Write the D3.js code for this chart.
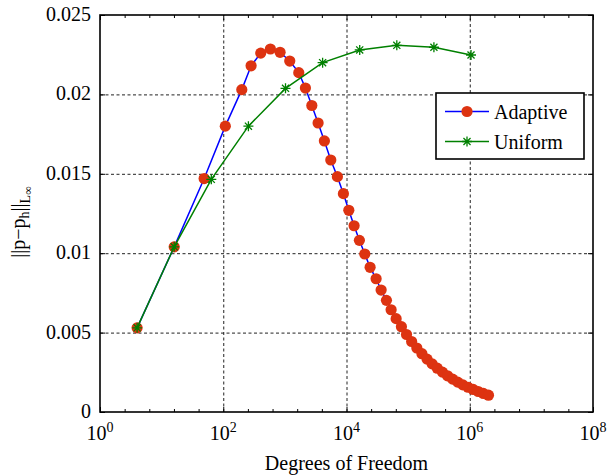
<!DOCTYPE html>
<html><head><meta charset="utf-8"><script src="https://cdn.jsdelivr.net/npm/d3@7"></script></head>
<body style="margin:0">
<svg id="c" width="609" height="475"></svg>
<script>
// ---- data ----
const adaptiveDOF = [4,16,49,108,200,283,406,582,836,1200,1680,2153,2735,3459,4376,5560,7115,8905,10900,13280,16190,19810,24150,30240,36470,44460,52980,63880,77850,94200,114000,138400,167500,202800,245400,296700,360300,436300,527600,638400,772700,937600,1135000,1374000,1663000,2013000];
const adaptiveErr = [0.0053,0.0104,0.0147,0.0180,0.0203,0.0218,0.0226,0.02286,0.02265,0.0221,0.02137,0.0204,0.0193,0.0182,0.01707,0.01587,0.01482,0.01375,0.0127,0.01173,0.01081,0.00995,0.00911,0.00839,0.00768,0.00703,0.00644,0.00588,0.00537,0.00488,0.00444,0.00403,0.00367,0.00333,0.00303,0.00276,0.00251,0.00228,0.00207,0.00188,0.00171,0.00156,0.00142,0.00129,0.00117,0.00106];
const uniformDOF = [4,16,64,256,1024,4096,16384,65536,262144,1048576];
const uniformErr = [0.0053,0.0104,0.01465,0.0180,0.02038,0.0220,0.0228,0.02309,0.02297,0.02248];
const xTickExps = [0,2,4,6,8];
const xMinorExps = [0.4,0.8,1.2,1.6,2.4,2.8,3.2,3.6,4.4,4.8,5.2,5.6,6.4,6.8,7.2,7.6];
const yTicks = [0,0.005,0.01,0.015,0.02,0.025];
const yTickLabels = ["0","0.005","0.01","0.015","0.02","0.025"];
const seriesNames = ["Adaptive","Uniform"];

const FF="'Liberation Serif', 'Times New Roman', serif";
const L=100,R=593,T=15,B=412;
const svg=d3.select("#c");
svg.append("rect").attr("width",609).attr("height",475).attr("fill","#fff");
const x=d3.scaleLog().domain([1,1e8]).range([L,R]);
const y=d3.scaleLinear().domain([0,0.025]).range([B,T]);

// grid
const grid=svg.append("g");
grid.append("g").attr("transform",`translate(0,${B})`)
  .call(d3.axisBottom(x).tickValues([100,1e4,1e6]).tickSize(-(B-T)).tickFormat(""));
grid.append("g").attr("transform",`translate(${L},0)`)
  .call(d3.axisLeft(y).tickValues([0.005,0.01,0.015,0.02]).tickSize(-(R-L)).tickFormat(""));
grid.selectAll(".domain").remove();
grid.selectAll("text").remove();
grid.selectAll("line").attr("stroke","#222").attr("stroke-width",1).attr("stroke-dasharray","3,2.5");

// inside ticks
const majX=xTickExps.map(e=>Math.pow(10,e));
const minX=xMinorExps.map(e=>Math.pow(10,e));
const tk=svg.append("g");
function tickG(axis,tr){const g=tk.append("g").attr("transform",tr).call(axis);}
tickG(d3.axisBottom(x).tickValues(majX).tickSize(-5).tickFormat(""),`translate(0,${B})`);
tickG(d3.axisTop(x).tickValues(majX).tickSize(-5).tickFormat(""),`translate(0,${T})`);
tickG(d3.axisBottom(x).tickValues(minX).tickSize(-3).tickFormat(""),`translate(0,${B})`);
tickG(d3.axisTop(x).tickValues(minX).tickSize(-3).tickFormat(""),`translate(0,${T})`);
tickG(d3.axisLeft(y).tickValues(yTicks).tickSize(-5).tickFormat(""),`translate(${L},0)`);
tickG(d3.axisRight(y).tickValues(yTicks).tickSize(-5).tickFormat(""),`translate(${R},0)`);
tk.selectAll(".domain").remove();
tk.selectAll("text").remove();
tk.selectAll("line").attr("stroke","#000").attr("stroke-width",1);

svg.append("rect").attr("x",L).attr("y",T).attr("width",R-L).attr("height",B-T)
  .attr("fill","none").attr("stroke","#000").attr("stroke-width",1.6);

// series
const adapt=adaptiveDOF.map((d,i)=>[d,adaptiveErr[i]]);
const unif=uniformDOF.map((d,i)=>[d,uniformErr[i]]);
const line=d3.line().x(d=>x(d[0])).y(d=>y(d[1]));
const red="#dd3311", green="#008000", blue="#0000ff";
svg.append("path").datum(adapt).attr("d",line).attr("fill","none").attr("stroke",blue).attr("stroke-width",1.5);
svg.selectAll("circle.m").data(adapt).join("circle").attr("class","m")
  .attr("cx",d=>x(d[0])).attr("cy",d=>y(d[1])).attr("r",5.6).attr("fill",red);
svg.append("path").datum(unif).attr("d",line).attr("fill","none").attr("stroke",green).attr("stroke-width",1.5);
const starPath=(r)=>{const a=r*0.707;return `M${-r},0H${r}M0,${-r}V${r}M${-a},${-a}L${a},${a}M${-a},${a}L${a},${-a}`;};
svg.selectAll("path.s").data(unif).join("path").attr("class","s")
  .attr("transform",d=>`translate(${x(d[0])},${y(d[1])})`).attr("d",starPath(5))
  .attr("fill","none").attr("stroke",green).attr("stroke-width",1.3);

// legend box and symbols
svg.append("rect").attr("x",436).attr("y",93).attr("width",148).attr("height",66)
  .attr("fill","#fff").attr("stroke","#000").attr("stroke-width",1.6);
const rowsY=[111.5,141.5];
svg.append("line").attr("x1",445).attr("x2",489).attr("y1",rowsY[0]).attr("y2",rowsY[0]).attr("stroke",blue).attr("stroke-width",1.5);
svg.append("circle").attr("cx",467).attr("cy",rowsY[0]).attr("r",5.6).attr("fill",red);
svg.append("line").attr("x1",445).attr("x2",489).attr("y1",rowsY[1]).attr("y2",rowsY[1]).attr("stroke",green).attr("stroke-width",1.5);
svg.append("path").attr("transform",`translate(467,${rowsY[1]})`).attr("d",starPath(5)).attr("fill","none").attr("stroke",green).attr("stroke-width",1.3);

// ---- all text, directly in the svg ----
svg.selectAll("text.leg").data(seriesNames).join("text").attr("class","leg")
  .attr("x",494).attr("y",(d,i)=>rowsY[i]+7).attr("font-size",20).attr("font-family",FF).text(d=>d);
svg.selectAll("text.yt").data(yTicks).join("text").attr("class","yt")
  .attr("x",L-9).attr("y",d=>y(d)+6).attr("text-anchor","end").attr("font-size",20).attr("font-family",FF)
  .text((d,i)=>yTickLabels[i]);
const xl=svg.selectAll("text.xt").data(xTickExps).join("text").attr("class","xt")
  .attr("x",d=>x(Math.pow(10,d))).attr("y",B+28).attr("text-anchor","middle").attr("font-size",20).attr("font-family",FF);
xl.append("tspan").text("10");
xl.append("tspan").attr("font-size",14).attr("dy",-8).text(d=>d);
svg.append("text").attr("x",(L+R)/2).attr("y",470).attr("text-anchor","middle").attr("font-size",20).attr("font-family",FF).text("Degrees of Freedom");
const yl=svg.append("text").attr("transform","translate(25,222) rotate(-90)").attr("text-anchor","middle").attr("font-size",20).attr("font-family",FF);
yl.append("tspan").text("||p\u2212p");
yl.append("tspan").attr("font-size",14).attr("dy",4).text("h");
yl.append("tspan").attr("dy",-4).text("||");
yl.append("tspan").attr("font-size",14).attr("dy",5).text("L");
yl.append("tspan").attr("font-size",12).attr("dy",2).text("\u221e");
</script></body></html>
